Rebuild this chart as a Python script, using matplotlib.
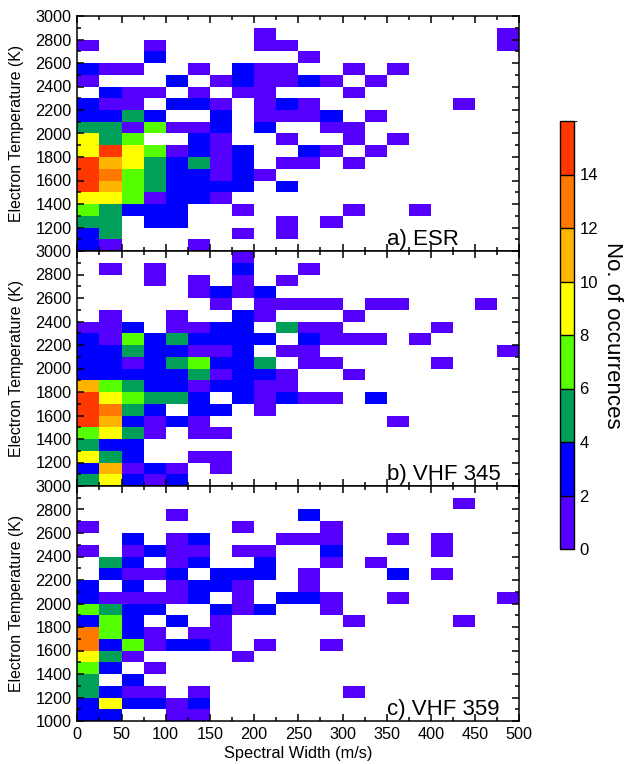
import numpy as np
import matplotlib
matplotlib.use('Agg')
import matplotlib.pyplot as plt
from matplotlib.colors import ListedColormap, BoundaryNorm
from matplotlib.ticker import MultipleLocator

plt.rcParams['font.family'] = ['Liberation Sans', 'DejaVu Sans']

# bins: 25 m/s in spectral width, 100 K in electron temperature
width_edges = np.arange(0, 525, 25)
temp_edges = np.arange(1000, 3100, 100)

# counts per cell, rows from 2900-3000 K (top) down to 1000-1100 K (bottom)
esr_counts = [
    [0, 0, 0, 0, 0, 0, 0, 0, 0, 0, 0, 0, 0, 0, 0, 0, 0, 0, 0, 0],
    [0, 0, 0, 0, 0, 0, 0, 0, 1, 0, 0, 0, 0, 0, 0, 0, 0, 0, 0, 1],
    [1, 0, 0, 1, 0, 0, 0, 0, 1, 1, 0, 0, 0, 0, 0, 0, 0, 0, 0, 1],
    [0, 0, 0, 3, 0, 0, 0, 0, 0, 0, 1, 0, 0, 0, 0, 0, 0, 0, 0, 0],
    [3, 1, 1, 0, 0, 1, 0, 3, 1, 1, 0, 0, 1, 0, 1, 0, 0, 0, 0, 0],
    [1, 0, 0, 0, 3, 0, 1, 3, 1, 1, 3, 1, 0, 1, 0, 0, 0, 0, 0, 0],
    [0, 3, 1, 1, 0, 1, 0, 1, 1, 0, 0, 0, 1, 0, 0, 0, 0, 0, 0, 0],
    [3, 1, 1, 0, 3, 3, 1, 0, 1, 3, 1, 0, 0, 0, 0, 0, 0, 1, 0, 0],
    [3, 3, 5, 3, 0, 0, 3, 0, 1, 1, 1, 3, 0, 1, 0, 0, 0, 0, 0, 0],
    [5, 5, 1, 7, 1, 1, 3, 0, 3, 0, 0, 1, 1, 0, 0, 0, 0, 0, 0, 0],
    [9, 5, 7, 0, 0, 3, 1, 0, 0, 1, 0, 0, 1, 0, 1, 0, 0, 0, 0, 0],
    [9, 15, 9, 7, 1, 3, 1, 3, 0, 0, 3, 1, 0, 1, 0, 0, 0, 0, 0, 0],
    [15, 11, 9, 5, 3, 5, 1, 3, 0, 1, 1, 0, 1, 0, 0, 0, 0, 0, 0, 0],
    [15, 13, 7, 5, 3, 3, 1, 3, 1, 0, 0, 0, 0, 0, 0, 0, 0, 0, 0, 0],
    [15, 11, 7, 5, 3, 3, 3, 3, 0, 3, 0, 0, 0, 0, 0, 0, 0, 0, 0, 0],
    [9, 9, 7, 1, 3, 3, 1, 0, 0, 0, 0, 0, 0, 0, 0, 0, 0, 0, 0, 0],
    [7, 5, 3, 3, 3, 0, 0, 1, 0, 0, 0, 0, 1, 0, 0, 1, 0, 0, 0, 0],
    [5, 5, 0, 3, 3, 0, 0, 0, 0, 1, 0, 1, 0, 0, 0, 0, 0, 0, 0, 0],
    [3, 5, 0, 0, 0, 0, 0, 1, 0, 1, 0, 0, 0, 0, 0, 0, 0, 0, 0, 0],
    [3, 1, 0, 0, 0, 1, 0, 0, 0, 0, 0, 0, 0, 0, 0, 0, 0, 0, 0, 0],
]

vhf345_counts = [
    [0, 0, 0, 0, 0, 0, 0, 1, 0, 0, 0, 0, 0, 0, 0, 0, 0, 0, 0, 0],
    [0, 1, 0, 1, 0, 0, 0, 3, 0, 0, 1, 0, 0, 0, 0, 0, 0, 0, 0, 0],
    [0, 0, 0, 1, 0, 1, 0, 1, 0, 1, 0, 0, 0, 0, 0, 0, 0, 0, 0, 0],
    [0, 0, 0, 0, 0, 1, 3, 1, 3, 0, 0, 0, 0, 0, 0, 0, 0, 0, 0, 0],
    [0, 0, 0, 0, 0, 0, 1, 0, 1, 1, 1, 1, 0, 1, 1, 0, 0, 0, 1, 0],
    [0, 1, 0, 0, 1, 0, 0, 3, 1, 0, 0, 0, 1, 0, 0, 0, 0, 0, 0, 0],
    [1, 1, 3, 0, 1, 1, 3, 3, 0, 5, 1, 1, 0, 0, 0, 0, 1, 0, 0, 0],
    [3, 1, 7, 3, 5, 3, 3, 3, 3, 0, 3, 1, 1, 1, 0, 1, 0, 0, 0, 0],
    [3, 3, 5, 3, 3, 1, 1, 3, 0, 1, 1, 0, 0, 0, 0, 0, 0, 0, 0, 1],
    [3, 3, 1, 3, 5, 7, 3, 3, 5, 0, 1, 1, 0, 0, 0, 0, 1, 0, 0, 0],
    [3, 3, 3, 3, 3, 5, 1, 3, 3, 1, 0, 0, 1, 0, 0, 0, 0, 0, 0, 0],
    [11, 7, 5, 3, 3, 1, 3, 3, 1, 1, 0, 0, 0, 0, 0, 0, 0, 0, 0, 0],
    [15, 9, 7, 5, 5, 3, 0, 3, 1, 3, 1, 1, 0, 3, 0, 0, 0, 0, 0, 0],
    [15, 13, 5, 3, 0, 3, 3, 0, 1, 0, 0, 0, 0, 0, 0, 0, 0, 0, 0, 0],
    [15, 11, 3, 1, 3, 1, 0, 0, 0, 0, 0, 0, 0, 0, 1, 0, 0, 0, 0, 0],
    [7, 9, 5, 1, 0, 1, 1, 0, 0, 0, 0, 0, 0, 0, 0, 0, 0, 0, 0, 0],
    [5, 3, 3, 0, 0, 0, 0, 0, 0, 0, 0, 0, 0, 0, 0, 0, 0, 0, 0, 0],
    [9, 5, 3, 0, 0, 1, 1, 0, 0, 0, 0, 0, 0, 0, 0, 0, 0, 0, 0, 0],
    [3, 11, 1, 3, 1, 0, 1, 0, 0, 0, 0, 0, 0, 0, 0, 0, 0, 0, 0, 0],
    [5, 9, 3, 1, 3, 0, 0, 0, 0, 0, 0, 0, 0, 0, 0, 0, 0, 0, 0, 0],
]

vhf359_counts = [
    [0, 0, 0, 0, 0, 0, 0, 0, 0, 0, 0, 0, 0, 0, 0, 0, 0, 0, 0, 0],
    [0, 0, 0, 0, 0, 0, 0, 0, 0, 0, 0, 0, 0, 0, 0, 0, 0, 1, 0, 0],
    [0, 0, 0, 0, 1, 0, 0, 0, 0, 0, 3, 0, 0, 0, 0, 0, 0, 0, 0, 0],
    [1, 0, 0, 0, 0, 0, 0, 1, 0, 0, 0, 1, 0, 0, 0, 0, 0, 0, 0, 0],
    [0, 0, 3, 0, 1, 3, 0, 0, 0, 1, 1, 1, 0, 0, 1, 0, 1, 0, 0, 0],
    [1, 0, 1, 3, 1, 1, 0, 1, 1, 0, 0, 3, 0, 0, 0, 0, 1, 0, 0, 0],
    [0, 5, 3, 0, 1, 3, 0, 0, 3, 0, 0, 1, 0, 1, 0, 0, 0, 0, 0, 0],
    [0, 3, 1, 1, 3, 0, 3, 3, 3, 0, 1, 0, 0, 0, 3, 0, 1, 0, 0, 0],
    [3, 0, 3, 0, 1, 3, 3, 1, 0, 0, 1, 0, 0, 0, 0, 0, 0, 0, 0, 0],
    [3, 1, 1, 1, 1, 3, 0, 1, 0, 3, 3, 1, 0, 0, 1, 0, 0, 0, 0, 1],
    [7, 5, 3, 3, 0, 0, 3, 1, 3, 0, 0, 1, 0, 0, 0, 0, 0, 0, 0, 0],
    [3, 7, 3, 0, 3, 0, 1, 0, 0, 0, 0, 0, 1, 0, 0, 0, 0, 1, 0, 0],
    [13, 7, 3, 1, 0, 1, 1, 0, 0, 0, 0, 0, 0, 0, 0, 0, 0, 0, 0, 0],
    [13, 3, 7, 1, 3, 3, 1, 0, 1, 0, 0, 1, 0, 0, 0, 0, 0, 0, 0, 0],
    [9, 5, 1, 0, 0, 0, 0, 1, 0, 0, 0, 0, 0, 0, 0, 0, 0, 0, 0, 0],
    [7, 3, 0, 1, 0, 0, 0, 0, 0, 0, 0, 0, 0, 0, 0, 0, 0, 0, 0, 0],
    [5, 0, 3, 0, 0, 0, 0, 0, 0, 0, 0, 0, 0, 0, 0, 0, 0, 0, 0, 0],
    [5, 3, 1, 1, 0, 1, 0, 0, 0, 0, 0, 0, 1, 0, 0, 0, 0, 0, 0, 0],
    [3, 9, 3, 3, 1, 3, 0, 0, 0, 0, 0, 0, 0, 0, 0, 0, 0, 0, 0, 0],
    [3, 3, 0, 0, 1, 1, 0, 0, 0, 0, 0, 0, 0, 0, 0, 0, 0, 0, 0, 0],
]

panel_names = ['a) ESR', 'b) VHF 345', 'c) VHF 359']
panel_counts = [esr_counts, vhf345_counts, vhf359_counts]

level_colors = ['#5500ff', '#0000ff', '#00a05a', '#55ff00',
                '#ffff00', '#ffb400', '#ff7800', '#ff3800']
levels = np.arange(0, 18, 2)
cmap = ListedColormap(level_colors)
cmap.set_bad('white')
norm = BoundaryNorm(levels, cmap.N)

fig = plt.figure(figsize=(6.28, 7.64), dpi=100)

W, H = 628, 764
left, right = 77.3, 519.3
tops = [16, 251, 486]
ph = 235

for i in range(3):
    ax = fig.add_axes([left / W, 1 - (tops[i] + ph) / H, (right - left) / W, ph / H])
    z = np.array(panel_counts[i], dtype=float)[::-1]
    z = np.ma.masked_where(z == 0, z)
    ax.pcolormesh(width_edges, temp_edges, z, cmap=cmap, norm=norm)
    ax.set_xlim(0, 500)
    ax.set_ylim(1000, 3000)
    ax.xaxis.set_major_locator(MultipleLocator(50))
    ax.xaxis.set_minor_locator(MultipleLocator(25))
    ax.yaxis.set_major_locator(MultipleLocator(200))
    ax.yaxis.set_minor_locator(MultipleLocator(100))
    ax.tick_params(which='both', direction='in', top=True, right=True,
                   labelsize=11.7, width=1.1, pad=4)
    ax.tick_params(which='major', length=5)
    ax.tick_params(which='minor', length=3)
    if i < 2:
        ax.set_yticks(np.arange(1200, 3200, 200))
        ax.tick_params(labelbottom=False)
    else:
        ax.set_yticks(np.arange(1000, 3200, 200))
        ax.set_xlabel('Spectral Width (m/s)', fontsize=11.8)
        ax.xaxis.set_label_coords(0.5, -0.105)
    ax.set_ylabel('Electron Temperature (K)', fontsize=11.4)
    ax.yaxis.set_label_coords(-0.12, 0.5)
    ax.text(0.70, 0.027, panel_names[i], transform=ax.transAxes,
            fontsize=16, ha='left', va='baseline')
    for s in ax.spines.values():
        s.set_linewidth(1.1)

cax = fig.add_axes([560 / W, 1 - 549 / H, 14 / W, 428 / H])
cb = fig.colorbar(plt.cm.ScalarMappable(norm=norm, cmap=cmap), cax=cax,
                  boundaries=levels, ticks=levels[:-1], drawedges=True)
cb.outline.set_linewidth(1)
cb.dividers.set_linewidth(1)
cax.tick_params(length=0, labelsize=12, pad=4)
cb.set_label('No. of occurrences', rotation=270, fontsize=16, labelpad=18)

fig.savefig('out.png', dpi=100)
